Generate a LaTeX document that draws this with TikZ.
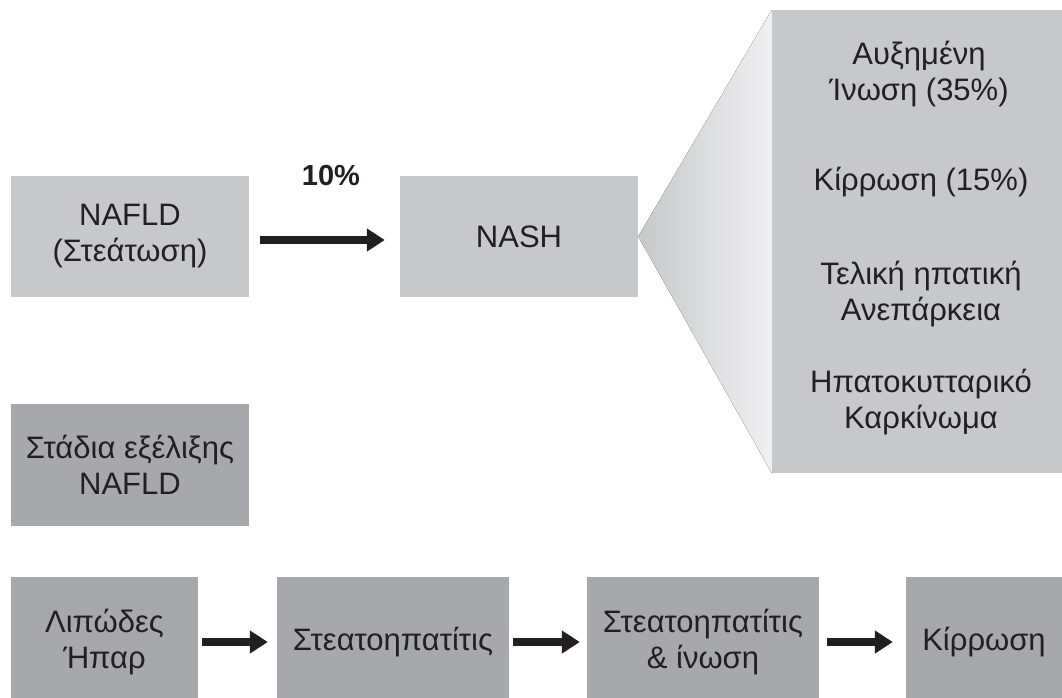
\documentclass[tikz,border=0pt]{standalone}
\usepackage{fontspec}
\setmainfont{Liberation Sans}
\usetikzlibrary{arrows.meta}
\definecolor{topgray}{RGB}{199,200,202}
\definecolor{botgray}{RGB}{167,168,171}
\definecolor{ink}{RGB}{35,31,32}
\definecolor{fanlight}{RGB}{240,240,242}
\tikzset{
  box/.style={fill=#1, draw=none, align=center, inner sep=0pt, text=ink,
    font=\fontsize{31}{36}\selectfont},
  txt/.style={align=center, inner sep=0pt, text=ink, font=\fontsize{31}{36}\selectfont},
  flow/.style={line width=8pt, draw=ink, -{Triangle[length=18pt,width=22pt]}},
}
\begin{document}
\begin{tikzpicture}[x=1pt,y=-1pt]
\fill[white] (0,0) rectangle (1062,697);
\useasboundingbox (0,0) rectangle (1062,697);
% top row
\node[box=topgray, minimum width=238pt, minimum height=121pt] (nafld) at (130,236.5) {NAFLD\\(Στεάτωση)};
\node[box=topgray, minimum width=238pt, minimum height=121pt] (nash) at (519,236.5) {NASH};
\node[box=topgray, minimum width=290pt, minimum height=463pt] (out) at (917,241.5) {};
\fill[left color=topgray, right color=fanlight] (nash.east) -- (out.north west) -- (out.south west) -- cycle;
\node[txt, anchor=base] (o1) at (919,100) {Αυξημένη\\Ίνωση (35\%)};
\node[txt, anchor=base] (o2) at (921,190) {Κίρρωση (15\%)};
\node[txt, anchor=base] (o3) at (921,320) {Τελική ηπατική\\Ανεπάρκεια};
\node[txt, anchor=base] (o4) at (921,428) {Ηπατοκυτταρικό\\Καρκίνωμα};
\draw[flow, shorten <=11pt, shorten >=15pt] ([yshift=-3.5pt]nafld.east) -- ([yshift=-3.5pt]nash.west);
\node[txt, font=\fontsize{29}{35}\selectfont\bfseries, anchor=base] (pct) at (331,185) {10\%};
% stages
\node[box=botgray, minimum width=238pt, minimum height=122pt] (stages) at (130,465) {Στάδια εξέλιξης\\NAFLD};
% bottom row (boxes run past the lower edge of the page)
\node[box=botgray, minimum width=187pt, minimum height=130pt] (b1) at (104.5,642) {Λιπώδες\\Ήπαρ};
\node[box=botgray, minimum width=232pt, minimum height=130pt] (b2) at (393,642) {Στεατοηπατίτις};
\node[box=botgray, minimum width=232pt, minimum height=130pt] (b3) at (703,642) {Στεατοηπατίτις\\\& ίνωση};
\node[box=botgray, minimum width=156pt, minimum height=130pt] (b4) at (984,642) {Κίρρωση};
\draw[flow, shorten <=4pt, shorten >=9pt] (b1.east) -- (b2.west);
\draw[flow, shorten <=4pt, shorten >=7pt] (b2.east) -- (b3.west);
\draw[flow, shorten <=8pt, shorten >=13pt] (b3.east) -- (b4.west);
\end{tikzpicture}
\end{document}
